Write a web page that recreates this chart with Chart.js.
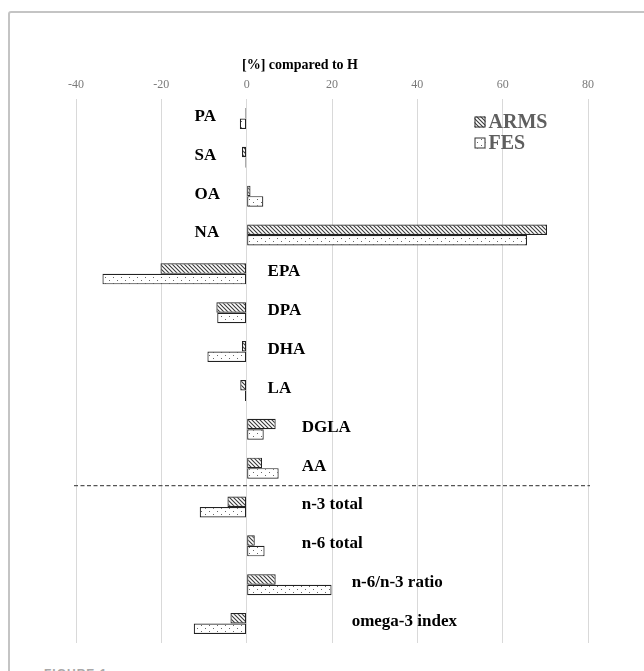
<!DOCTYPE html>
<html>
<head>
<meta charset="utf-8">
<script src="https://cdn.jsdelivr.net/npm/chart.js@4/dist/chart.umd.min.js"></script>
<style>
  html, body { margin: 0; padding: 0; background: #fff; overflow: hidden; }
  #wrap { position: relative; width: 644px; height: 671px; }
  #frame { position: absolute; left: 8px; top: 11px; width: 700px; height: 720px; border: 2px solid #c4c4c4; box-sizing: border-box; border-radius: 3px; }
  #fig { position: absolute; left: 44px; top: 667px; font: bold 12px "Liberation Sans", Arial, sans-serif; color: #a8a8a8; letter-spacing: 1px; }
  canvas { position: absolute; left: 0; top: 0; }
</style>
</head>
<body>
<div id="wrap">
  <div id="frame"></div>
  <div id="fig">FIGURE 1</div>
  <canvas id="c" width="644" height="671"></canvas>
</div>
<script>
// ---- data ----
const categories = ["PA", "SA", "OA", "NA", "EPA", "DPA", "DHA", "LA", "DGLA", "AA", "n-3 total", "n-6 total", "n-6/n-3 ratio", "omega-3 index"];
const armsValues = [-0.3, -1.1, 0.9, 70.4, -20.2, -7.1, -1.1, -1.5, 6.8, 3.6, -4.5, 1.9, 6.8, -3.8];
const fesValues  = [-1.6, -0.3, 3.9, 65.7, -33.8, -6.9, -9.2, -0.4, 4.0, 7.5, -11.0, 4.2, 19.9, -12.4];
const seriesNames = ["ARMS", "FES"];
const xTicks = [-40, -20, 0, 20, 40, 60, 80];
const axisTitle = "[%] compared to H";

// label anchor (x-axis units) for each category name; layout only
const labelAnchor = [-12.2, -12.2, -12.2, -12.2, 4.9, 4.9, 4.9, 4.9, 12.9, 12.9, 12.9, 12.9, 24.6, 24.6];
const dividerAfterIndex = 9; // dashed line between AA and n-3 total

// ---- patterns ----
function hatchPattern() {
  const c = document.createElement('canvas'); c.width = 4; c.height = 4;
  const g = c.getContext('2d');
  g.fillStyle = '#fff'; g.fillRect(0, 0, 4, 4);
  g.strokeStyle = '#3a3a3a'; g.lineWidth = 1.1;
  g.beginPath();
  g.moveTo(-1, -1); g.lineTo(5, 5);
  g.moveTo(-1, 3); g.lineTo(1, 5);
  g.moveTo(3, -1); g.lineTo(5, 1);
  g.stroke();
  return g.createPattern(c, 'repeat');
}
function dotPattern() {
  const c = document.createElement('canvas'); c.width = 8; c.height = 6;
  const g = c.getContext('2d');
  g.fillStyle = '#fff'; g.fillRect(0, 0, 8, 6);
  g.fillStyle = '#666';
  g.fillRect(1, 1, 1, 1);
  g.fillRect(5, 4, 1, 1);
  return g.createPattern(c, 'repeat');
}
const fills = [hatchPattern(), dotPattern()];

const SERIF = '"Liberation Serif", "Times New Roman", serif';

const overlay = {
  id: 'overlay',
  afterDatasetsDraw(chart) {
    const ctx = chart.ctx, xs = chart.scales.x, ys = chart.scales.y, area = chart.chartArea;
    ctx.save();
    // category labels
    ctx.font = 'bold 17px ' + SERIF;
    ctx.fillStyle = '#000';
    ctx.textAlign = 'left';
    ctx.textBaseline = 'middle';
    categories.forEach((name, i) => {
      ctx.fillText(name, xs.getPixelForValue(labelAnchor[i]), ys.getPixelForValue(i) - 2);
    });
    // dashed divider
    const yd = (ys.getPixelForValue(dividerAfterIndex) + ys.getPixelForValue(dividerAfterIndex + 1)) / 2 - 2;
    ctx.strokeStyle = '#555';
    ctx.lineWidth = 1.3;
    ctx.setLineDash([4, 2.5]);
    ctx.beginPath();
    ctx.moveTo(area.left - 2, yd);
    ctx.lineTo(area.right + 2, yd);
    ctx.stroke();
    ctx.setLineDash([]);
    // axis title
    ctx.font = 'bold 14px ' + SERIF;
    ctx.textAlign = 'center';
    ctx.fillStyle = '#000';
    ctx.fillText(axisTitle, xs.getPixelForValue(12.5), 65);
    // legend
    const lx = xs.getPixelForValue(53.4);
    const ly = [122, 143];
    seriesNames.forEach((n, k) => {
      ctx.fillStyle = fills[k];
      ctx.fillRect(lx, ly[k] - 5.5, 11, 11);
      ctx.strokeStyle = '#333';
      ctx.lineWidth = 1;
      ctx.strokeRect(lx + 0.5, ly[k] - 5, 10, 10);
      ctx.font = 'bold 20px ' + SERIF;
      ctx.fillStyle = '#5f5f5f';
      ctx.textAlign = 'left';
      ctx.textBaseline = 'middle';
      ctx.fillText(n, lx + 14, ly[k] + 1);
    });
    ctx.restore();
  }
};

new Chart(document.getElementById('c'), {
  type: 'bar',
  data: {
    labels: categories,
    datasets: [
      { label: seriesNames[0], data: armsValues, backgroundColor: fills[0], borderColor: '#222', borderWidth: 1.2, borderSkipped: false },
      { label: seriesNames[1], data: fesValues, backgroundColor: fills[1], borderColor: '#222', borderWidth: 1.2, borderSkipped: false }
    ]
  },
  options: {
    indexAxis: 'y',
    responsive: false,
    animation: false,
    layout: { padding: { left: 76, right: 56, top: 69, bottom: 28 } },
    datasets: { bar: { categoryPercentage: 0.54, barPercentage: 1.0 } },
    plugins: { legend: { display: false }, tooltip: { enabled: false }, title: { display: false } },
    scales: {
      x: {
        position: 'top',
        min: -40, max: 80,
        afterBuildTicks(scale) { scale.ticks = xTicks.map(v => ({ value: v })); },
        afterFit(scale) { scale.height = 30; },
        ticks: { color: '#7a7a7a', font: { family: SERIF, size: 12 }, padding: 7 },
        grid: { color: '#d9d9d9', lineWidth: 1, drawTicks: false },
        border: { display: false }
      },
      y: {
        display: false,
        grid: { display: false }
      }
    }
  },
  plugins: [overlay]
});
</script>
</body>
</html>
